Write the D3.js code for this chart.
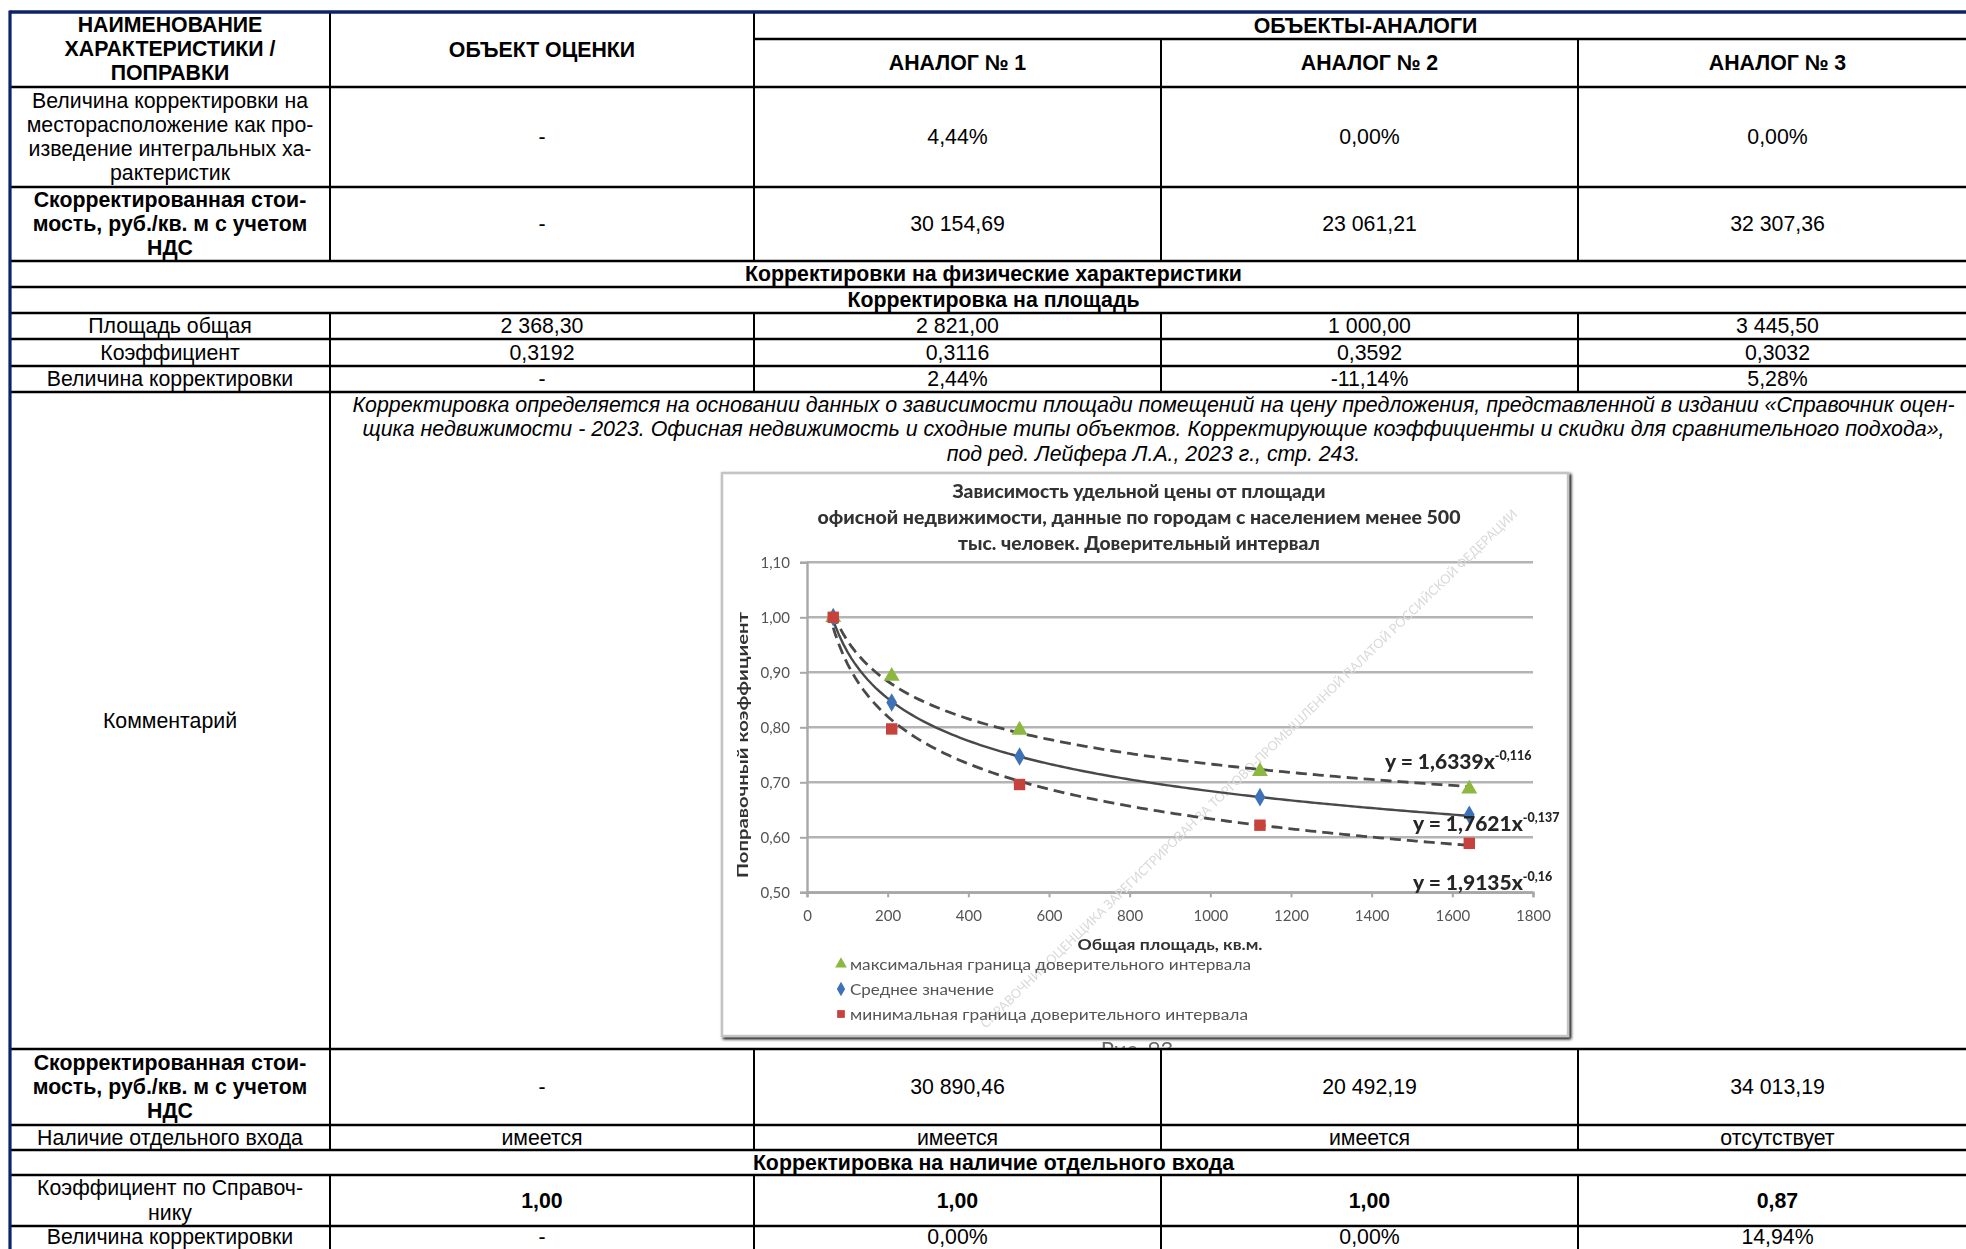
<!DOCTYPE html>
<html><head><meta charset="utf-8">
<script src="https://cdn.jsdelivr.net/npm/d3@7"></script>
<style>html,body{margin:0;padding:0;background:#fff;overflow:hidden}</style>
</head><body>
<svg id="c" width="1966" height="1249" xmlns="http://www.w3.org/2000/svg"></svg>
<script>
// ---------- TABLE DATA ----------
const headerFirst = ["НАИМЕНОВАНИЕ", "ХАРАКТЕРИСТИКИ /", "ПОПРАВКИ"];
const headerObject = "ОБЪЕКТ ОЦЕНКИ";
const headerGroup = "ОБЪЕКТЫ-АНАЛОГИ";
const analogNames = ["АНАЛОГ № 1", "АНАЛОГ № 2", "АНАЛОГ № 3"];
const rowLabels = [
  ["Величина корректировки на", "месторасположение как про-", "изведение интегральных ха-", "рактеристик"],
  ["Скорректированная стои-", "мость, руб./кв. м с учетом", "НДС"],
  ["Площадь общая"],
  ["Коэффициент"],
  ["Величина корректировки"],
  ["Скорректированная стои-", "мость, руб./кв. м с учетом", "НДС"],
  ["Наличие отдельного входа"],
  ["Коэффициент по Справоч-", "нику"],
  ["Величина корректировки"]
];
const labelBold = [false, true, false, false, false, true, false, false, false];
const valueBold = [false, false, false, false, false, false, false, true, false];
const objectValues  = ["-", "-", "2 368,30", "0,3192", "-", "-", "имеется", "1,00", "-"];
const analog1Values = ["4,44%", "30 154,69", "2 821,00", "0,3116", "2,44%", "30 890,46", "имеется", "1,00", "0,00%"];
const analog2Values = ["0,00%", "23 061,21", "1 000,00", "0,3592", "-11,14%", "20 492,19", "имеется", "1,00", "0,00%"];
const analog3Values = ["0,00%", "32 307,36", "3 445,50", "0,3032", "5,28%", "34 013,19", "отсутствует", "0,87", "14,94%"];
const sectionTitles = ["Корректировки на физические характеристики", "Корректировка на площадь", "Корректировка на наличие отдельного входа"];
const commentLabel = "Комментарий";
const commentLines = [
  "Корректировка определяется на основании данных о зависимости площади помещений на цену предложения, представленной в издании «Справочник оцен-",
  "щика недвижимости - 2023. Офисная недвижимость и сходные типы объектов. Корректирующие коэффициенты и скидки для сравнительного подхода»,",
  "под ред. Лейфера Л.А., 2023 г., стр. 243."
];

// ---------- CHART DATA ----------
const chartTitle = ["Зависимость удельной цены от площади", "офисной недвижимости, данные по городам с населением менее 500", "тыс. человек. Доверительный интервал"];
const areaValues = [65, 210, 527, 1123, 1642];
const maxValues  = [1.00, 0.893, 0.795, 0.720, 0.688];
const meanValues = [1.00, 0.845, 0.747, 0.673, 0.641];
const minValues  = [1.00, 0.797, 0.696, 0.622, 0.589];
const trendA = [1.6339, 1.7621, 1.9135];
const trendB = [-0.116, -0.137, -0.16];
const trendLabelMain = ["y = 1,6339x", "y = 1,7621x", "y = 1,9135x"];
const trendLabelExp  = ["-0,116", "-0,137", "-0,16"];
const yTicks = [0.5, 0.6, 0.7, 0.8, 0.9, 1.0, 1.1];
const xTicks = [0, 200, 400, 600, 800, 1000, 1200, 1400, 1600, 1800];
const yAxisTitle = "Поправочный коэффициент";
const xAxisTitle = "Общая площадь, кв.м.";
const legendLabels = ["максимальная граница доверительного интервала", "Среднее значение", "минимальная граница доверительного интервала"];
const seriesColors = ["#8db83f", "#3d72b8", "#c8423c"];
const watermark = "СПРАВОЧНИК ОЦЕНЩИКА ЗАРЕГИСТРИРОВАН ЗА ТОРГОВО-ПРОМЫШЛЕННОЙ ПАЛАТОЙ РОССИЙСКОЙ ФЕДЕРАЦИИ";
const figureCaption = "Рис. 93";

// ---------- LAYOUT ----------
const svg = d3.select("#c");
const FONT = "'Liberation Sans', Arial, sans-serif";
const FS = 21.3;
const LH = 24.3;
const colX = [10, 330, 754, 1161, 1578, 1977];
const rowY = [12, 87, 187, 261, 287, 313, 339, 366, 392, 1049, 1125, 1150, 1175, 1226, 1252];
const dataRowIdx = [1, 2, 5, 6, 7, 9, 10, 12, 13];
const sectionRowIdx = [3, 4, 11];
const commentRow = 8;
const groupSplitY = 39;

const cx = i => (colX[i] + colX[i + 1]) / 2;
const cy = r => Math.min((rowY[r] + rowY[r + 1]) / 2, 1236.5);

const tbl = svg.append("g");

function multiText(g, lines, x, yc, bold, italic) {
  const n = lines.length;
  lines.forEach((t, k) => {
    g.append("text").attr("x", x).attr("y", yc + (k - (n - 1) / 2) * LH)
      .attr("text-anchor", "middle").attr("dominant-baseline", "central")
      .attr("font-family", FONT).attr("font-size", FS)
      .attr("font-weight", bold ? "bold" : "normal")
      .attr("font-style", italic ? "italic" : "normal")
      .attr("fill", "#000").text(t);
  });
}

// header
multiText(tbl, headerFirst, cx(0), cy(0) - 0.5, true);
multiText(tbl, [headerObject], cx(1), cy(0), true);
multiText(tbl, [headerGroup], (colX[2] + colX[5]) / 2, (rowY[0] + groupSplitY) / 2, true);
analogNames.forEach((a, i) => multiText(tbl, [a], cx(i + 2), (groupSplitY + rowY[1]) / 2, true));

// data rows
const valueCols = [objectValues, analog1Values, analog2Values, analog3Values];
dataRowIdx.forEach((r, k) => {
  multiText(tbl, rowLabels[k], cx(0), cy(r), labelBold[k]);
  valueCols.forEach((vals, c) => multiText(tbl, [vals[k]], cx(c + 1), cy(r), valueBold[k]));
});
// section rows
sectionRowIdx.forEach((r, k) => multiText(tbl, [sectionTitles[k]], (colX[0] + colX[5]) / 2, cy(r), true));
// comment
multiText(tbl, [commentLabel], cx(0), cy(commentRow), false);
const commentX = (colX[1] + colX[5]) / 2;
const commentLen = [1602, 1582, null];
commentLines.forEach((t, k) => {
  const el = tbl.append("text").attr("x", commentX).attr("y", 405 + k * LH)
    .attr("text-anchor", "middle").attr("dominant-baseline", "central")
    .attr("font-family", FONT).attr("font-size", FS).attr("font-style", "italic").text(t);
  if (commentLen[k]) el.attr("textLength", commentLen[k]).attr("lengthAdjust", "spacingAndGlyphs");
});

// grid lines
const lines = svg.append("g").attr("stroke", "#000");
rowY.slice(1).forEach(y => lines.append("line").attr("x1", colX[0]).attr("x2", colX[5] + 5).attr("y1", y).attr("y2", y).attr("stroke-width", 2.6));
lines.append("line").attr("x1", colX[2]).attr("x2", colX[5] + 5).attr("y1", groupSplitY).attr("y2", groupSplitY).attr("stroke-width", 2.6);
// verticals
lines.append("line").attr("x1", colX[1]).attr("x2", colX[1]).attr("y1", rowY[0]).attr("y2", rowY[1]).attr("stroke-width", 2);
lines.append("line").attr("x1", colX[2]).attr("x2", colX[2]).attr("y1", rowY[0]).attr("y2", rowY[1]).attr("stroke-width", 2);
[3, 4].forEach(c => lines.append("line").attr("x1", colX[c]).attr("x2", colX[c]).attr("y1", groupSplitY).attr("y2", rowY[1]).attr("stroke-width", 2));
dataRowIdx.forEach(r => [1, 2, 3, 4].forEach(c => lines.append("line").attr("x1", colX[c]).attr("x2", colX[c]).attr("y1", rowY[r]).attr("y2", rowY[r + 1]).attr("stroke-width", 2)));
lines.append("line").attr("x1", colX[1]).attr("x2", colX[1]).attr("y1", rowY[commentRow]).attr("y2", rowY[commentRow + 1]).attr("stroke-width", 2);
// navy outer borders
svg.append("line").attr("x1", colX[0]).attr("x2", 1966).attr("y1", rowY[0]).attr("y2", rowY[0]).attr("stroke", "#0c2465").attr("stroke-width", 3.4);
svg.append("line").attr("x1", colX[0]).attr("x2", colX[0]).attr("y1", rowY[0] - 1.5).attr("y2", 1249).attr("stroke", "#0c2465").attr("stroke-width", 3.2);

// ---------- CHART ----------
const defs = svg.append("defs");
defs.append("clipPath").attr("id", "cellclip").append("rect")
  .attr("x", colX[1] + 1).attr("y", rowY[commentRow] + 1).attr("width", colX[5] - colX[1]).attr("height", rowY[commentRow + 1] - rowY[commentRow] - 2);
const blur = defs.append("filter").attr("id", "soft");
blur.append("feGaussianBlur").attr("stdDeviation", 0.65);
const shadow = defs.append("filter").attr("id", "shadow").attr("x", "-5%").attr("y", "-5%").attr("width", "110%").attr("height", "110%");
shadow.append("feGaussianBlur").attr("in", "SourceAlpha").attr("stdDeviation", 1.5);
shadow.append("feOffset").attr("dx", 1.5).attr("dy", 2).attr("result", "o");
const fm = shadow.append("feMerge"); fm.append("feMergeNode").attr("in", "o"); fm.append("feMergeNode").attr("in", "SourceGraphic");

const outer = svg.append("g").attr("clip-path", "url(#cellclip)");
const ch = outer.append("g").attr("filter", "url(#soft)");
const CF = "Lato, 'Open Sans', sans-serif";
const frame = {x: 722, y: 473, w: 846, h: 563};
ch.append("rect").attr("x", frame.x).attr("y", frame.y).attr("width", frame.w).attr("height", frame.h)
  .attr("fill", "#fff").attr("stroke", "#c4c4c4").attr("stroke-width", 2.5).attr("filter", "url(#shadow)");

const x = d3.scaleLinear().domain([0, 1800]).range([807, 1533]);
const y = d3.scaleLinear().domain([0.5, 1.1]).range([892.3, 562.3]);

// title
const titleY = [491, 517, 543];
const titleLen = [373, 643, 362];
chartTitle.forEach((t, k) => ch.append("text").attr("x", 1139).attr("y", titleY[k]).attr("text-anchor", "middle")
  .attr("dominant-baseline", "central").attr("font-family", CF).attr("font-weight", 900).attr("font-size", 18)
  .attr("fill", "#333").attr("textLength", titleLen[k]).attr("lengthAdjust", "spacingAndGlyphs").text(t));

// gridlines
ch.append("g").selectAll("line").data(yTicks).join("line")
  .attr("x1", x(0)).attr("x2", x(1800)).attr("y1", d => y(d)).attr("y2", d => y(d))
  .attr("stroke", "#b4b4b4").attr("stroke-width", 2.6);

// axes
const yAxis = ch.append("g").attr("transform", `translate(${x(0)},0)`)
  .call(d3.axisLeft(y).tickValues(yTicks).tickSize(7).tickPadding(10).tickFormat(d => d.toFixed(2).replace(".", ",")));
const xAxis = ch.append("g").attr("transform", `translate(0,${y(0.5)})`)
  .call(d3.axisBottom(x).tickValues(xTicks).tickSize(5).tickPadding(13).tickFormat(d => String(d)));
[yAxis, xAxis].forEach(a => {
  a.select(".domain").attr("stroke", "#a8a8a8").attr("stroke-width", 2.4);
  a.selectAll(".tick line").attr("stroke", "#a8a8a8").attr("stroke-width", 2);
  a.selectAll(".tick text").attr("font-family", CF).attr("font-size", 15).attr("fill", "#555");
});

// watermark
ch.append("text").attr("transform", "translate(1252,772) rotate(-44)").attr("text-anchor", "middle")
  .attr("font-family", CF).attr("font-size", 13).attr("fill", "#d9d9d9").attr("textLength", 740)
  .attr("lengthAdjust", "spacingAndGlyphs").text(watermark);

// axis titles
ch.append("text").attr("transform", "translate(742,745) rotate(-90)").attr("text-anchor", "middle")
  .attr("dominant-baseline", "central").attr("font-family", CF).attr("font-weight", "bold").attr("font-size", 15)
  .attr("fill", "#333").attr("textLength", 266).attr("lengthAdjust", "spacingAndGlyphs").text(yAxisTitle);
ch.append("text").attr("x", 1170).attr("y", 944).attr("text-anchor", "middle").attr("dominant-baseline", "central")
  .attr("font-family", CF).attr("font-weight", "bold").attr("font-size", 15).attr("fill", "#333")
  .attr("textLength", 185).attr("lengthAdjust", "spacingAndGlyphs").text(xAxisTitle);

// trend lines (from the regression equations printed on the chart, over the data range)
const trendX = x.ticks(160).filter(v => v >= areaValues[0] && v <= areaValues[areaValues.length - 1])
  .concat([areaValues[0], areaValues[areaValues.length - 1]]).sort((a, b) => a - b);
const lineGen = d3.line().x(d => x(d[0])).y(d => y(d[1]));
trendA.forEach((a, i) => {
  ch.append("path").datum(trendX.map(v => [v, a * Math.pow(v, trendB[i])]))
    .attr("d", lineGen).attr("fill", "none").attr("stroke", "#4a4a4a").attr("stroke-width", i === 1 ? 2.4 : 2.8)
    .attr("stroke-dasharray", i === 1 ? null : "11,6");
});

// markers
const seriesVals = [maxValues, meanValues, minValues];
const shapes = [d3.symbolTriangle, d3.symbolDiamond, d3.symbolSquare];
const sizes = [110, 100, 130];
seriesVals.forEach((vals, i) => {
  ch.append("g").selectAll("path").data(vals).join("path")
    .attr("transform", (d, j) => `translate(${x(areaValues[j])},${y(d)})`)
    .attr("d", d3.symbol(shapes[i], sizes[i])).attr("fill", seriesColors[i]);
});

// equation labels
const eqX = [1385, 1413, 1413];
const eqY = [769, 831, 890];
trendLabelMain.forEach((t, i) => {
  const tx = ch.append("text").attr("x", eqX[i]).attr("y", eqY[i]).attr("font-family", CF).attr("font-weight", 900)
    .attr("font-size", 21).attr("fill", "#262626");
  tx.append("tspan").text(t);
  tx.append("tspan").attr("dy", -9).attr("font-size", 12.5).text(trendLabelExp[i]);
});

// legend
const legY = [964, 989, 1014];
const legLen = [401, 144, 398];
legendLabels.forEach((t, i) => {
  ch.append("path").attr("transform", `translate(841,${legY[i]})`).attr("d", d3.symbol(shapes[i], 60)).attr("fill", seriesColors[i]);
  ch.append("text").attr("x", 850).attr("y", legY[i]).attr("dominant-baseline", "central").attr("font-family", CF)
    .attr("font-size", 14.5).attr("fill", "#555").attr("textLength", legLen[i]).attr("lengthAdjust", "spacingAndGlyphs").text(t);
});

// caption below the picture (partly hidden by the cell border, as in the source)
ch.append("text").attr("x", 1137).attr("y", 1057).attr("text-anchor", "middle").attr("font-family", CF)
  .attr("font-size", 22).attr("fill", "#666").text(figureCaption);
</script>
</body></html>
